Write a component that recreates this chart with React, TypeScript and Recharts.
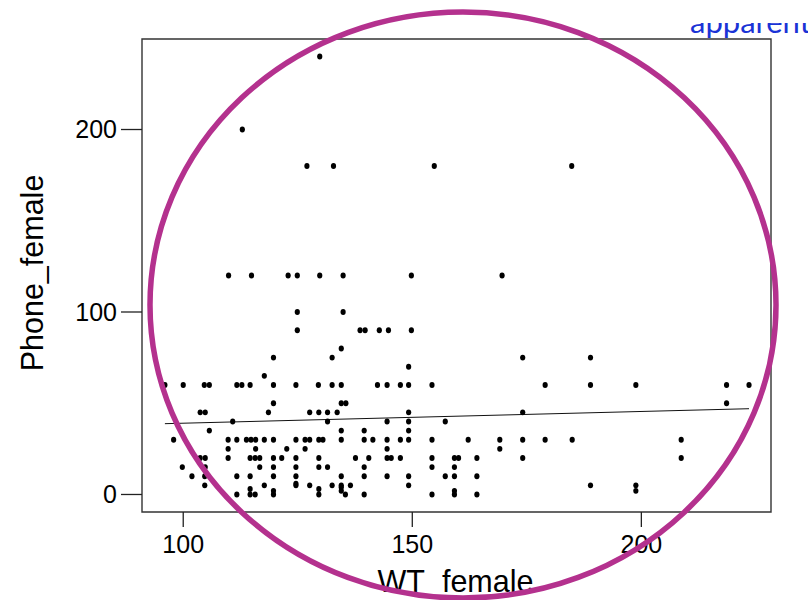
import { ScatterChart, Scatter, XAxis, YAxis, ReferenceLine, ReferenceArea } from 'recharts';

// WT_female / Phone_female pairs
const wtFemale = [
  96, 100, 104.6, 105.7, 111.7, 112.8, 114.6, 119.7,
  119.7, 117.7, 119.7, 118.6, 103.7, 104.8, 110.8, 105.7, 97.9,
  109.8, 111.7, 113.8, 114.8, 115.8, 117.7, 119.7,
  109.8, 115.8, 122.6,
  103.7, 104.8, 109.8, 114.6, 115.7, 116.7, 119.7, 121.5,
  99.8, 104.8, 116.7, 119.7,
  101.9, 104.7, 111.7, 114.6, 119.7,
  104.7, 117.7,
  111.7, 114.6, 115.7, 119.7, 114.6, 119.7,
  124.6, 124.6, 124.6, 124.6, 124.6, 124.6, 124.6,
  134.5, 132.5, 149.2,
  129.5, 132.5, 134.5, 142.4, 144.5, 147.4, 149.2, 154.3,
  134.5, 135.5,
  127.6, 129.6, 131.5, 133.6, 149.2,
  131.5, 144.5, 149.2, 157.2,
  134.5, 139.5, 149.2,
  126.6, 127.6, 129.6, 130.5, 134.5, 139.5, 141.4, 144.5, 147.4, 149.2, 154.3,
  126.6, 144.5,
  129.6, 137.6, 140.5, 144.5, 145.4, 147.4, 154.3,
  129.6, 131.5, 139.5, 154.3,
  134.5, 139.5, 144.5, 149.2, 157.2,
  127.6, 132.5, 134.5, 136.5, 149.2, 134.5,
  129.6, 134.5,
  129.6, 135.4, 139.5, 154.3,
  174.1, 188.9,
  179, 188.9, 198.8, 218.6, 223.5,
  218.6, 174.1,
  162.2, 169.1, 174.1, 179, 184.9, 208.7,
  169.1,
  159.2, 160.1, 164.1, 174.1, 208.7,
  159.2,
  159.2, 164.1,
  188.9, 198.8, 198.8,
  159.2, 159.2, 164.1,
  129.8, 112.9,
  127, 132.8, 154.8, 184.8,
  109.9, 114.9, 122.9, 124.9, 129.8, 134.9, 149.8, 169.6,
  124.9, 134.9,
  124.9, 138.6, 139.7, 142.8, 144.8, 149.8,
];

const phoneFemale = [
  60, 60, 60, 60, 60, 60, 60, 60,
  75, 65, 50, 45, 45, 45, 40, 35, 30,
  30, 30, 30, 30, 30, 30, 30,
  25, 25, 25,
  20, 20, 20, 20, 20, 20, 20, 20,
  15, 15, 15, 15,
  10, 10, 10, 10, 10,
  5, 5,
  0, 0, 0, 0, 3, 2,
  60, 30, 20, 15, 10, 5, 6,
  80, 75, 70,
  60, 60, 60, 60, 60, 60, 60, 60,
  50, 50,
  45, 45, 45, 45, 45,
  40, 40, 40, 40,
  35, 35, 35,
  30, 30, 30, 30, 30, 30, 30, 30, 30, 30, 30,
  25, 25,
  20, 20, 20, 20, 20, 20, 20,
  15, 15, 15, 15,
  10, 10, 10, 10, 10,
  5, 5, 5, 5, 5, 4,
  3, 2,
  0, 0, 0, 0,
  75, 75,
  60, 60, 60, 60, 60,
  50, 45,
  30, 30, 30, 30, 30, 30,
  25,
  20, 20, 20, 20, 20,
  15,
  10, 10,
  5, 5, 2,
  2, 0, 0,
  240, 200,
  180, 180, 180, 180,
  120, 120, 120, 120, 120, 120, 120, 120,
  100, 100,
  90, 90, 90, 90, 90, 90,
];

const fitLine = [
  { x: 96, y: 38.8 },
  { x: 223.5, y: 47 },
];

const xTicks = [100, 150, 200];
const yTicks = [0, 100, 200];
const xDomain: [number, number] = [91, 228.3];
const yDomain: [number, number] = [-9.6, 249.6];

const points = wtFemale.map((x, i) => ({ x, y: phoneFemale[i] }));

const FONT = '"Liberation Sans", Arial, Helvetica, sans-serif';

const Dot = (p: any) => <ellipse cx={p.cx} cy={p.cy} rx={2.6} ry={2.9} fill="#000" />;

export default function App() {
  return (
    <div
      style={{
        position: 'absolute',
        left: 0,
        top: 0,
        width: 808,
        height: 600,
        overflow: 'hidden',
        background: '#fff',
        fontFamily: FONT,
      }}
    >
      <ScatterChart width={808} height={600} margin={{ top: 39, right: 37, left: 0, bottom: 0 }}>
        <XAxis
          type="number"
          dataKey="x"
          domain={xDomain}
          ticks={xTicks}
          allowDataOverflow
          height={88}
          axisLine={false}
          tickSize={15}
          tickMargin={8}
          tickLine={{ stroke: '#222', strokeWidth: 1.3 }}
          tick={{ fill: '#000', fontSize: 25, fontFamily: FONT }}
        />
        <YAxis
          type="number"
          dataKey="y"
          domain={yDomain}
          ticks={yTicks}
          allowDataOverflow
          width={142}
          axisLine={false}
          tickSize={21}
          tickMargin={4}
          tickLine={{ stroke: '#222', strokeWidth: 1.3 }}
          tick={{ fill: '#000', fontSize: 25, fontFamily: FONT }}
        />
        <ReferenceArea
          x1={xDomain[0]}
          x2={xDomain[1]}
          y1={yDomain[0]}
          y2={yDomain[1]}
          fill="none"
          stroke="#333"
          strokeWidth={1.4}
        />
        <ReferenceLine segment={fitLine} stroke="#111" strokeWidth={1} />
        <Scatter data={points} shape={Dot} isAnimationActive={false} />
      </ScatterChart>
      <svg
        width={808}
        height={600}
        style={{ position: 'absolute', left: 0, top: 0, pointerEvents: 'none' }}
      >
        <defs>
          <clipPath id="topclip">
            <rect x={600} y={23} width={208} height={30} />
          </clipPath>
        </defs>
        <text
          x={690}
          y={33}
          fontSize={31}
          fill="#1a33d6"
          fontFamily='Lato, "Open Sans", sans-serif'
          clipPath="url(#topclip)"
        >
          apparent
        </text>
        <text x={455.5} y={592} textAnchor="middle" fontSize={30.5} fontFamily={FONT} fill="#000">
          WT_female
        </text>
        <text
          x={43}
          y={273}
          textAnchor="middle"
          fontSize={30.5}
          fontFamily={FONT}
          fill="#000"
          transform="rotate(-90 43 273)"
        >
          Phone_female
        </text>
        <ellipse cx={463} cy={305} rx={313} ry={293} fill="none" stroke="#b4318e" strokeWidth={5.5} />
      </svg>
    </div>
  );
}
